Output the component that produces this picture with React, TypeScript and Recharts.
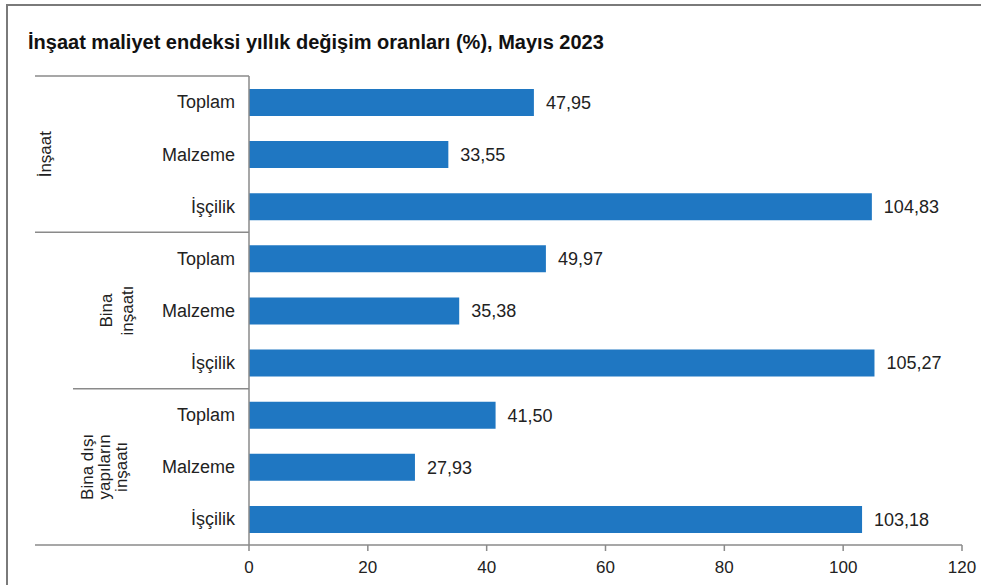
import React from 'react';
import { BarChart, Bar, XAxis, YAxis, LabelList, Customized, usePlotArea } from 'recharts';

const categories = ['Toplam', 'Malzeme', 'İşçilik', 'Toplam', 'Malzeme', 'İşçilik', 'Toplam', 'Malzeme', 'İşçilik'];
const values = [47.95, 33.55, 104.83, 49.97, 35.38, 105.27, 41.5, 27.93, 103.18];
const groupLabels = [['İnşaat'], ['Bina', 'inşaatı'], ['Bina dışı', 'yapıların', 'inşaatı']];
const xTicks = [0, 20, 40, 60, 80, 100, 120];
const title = 'İnşaat maliyet endeksi yıllık değişim oranları (%), Mayıs 2023';

const data = categories.map((c, i) => ({ id: `c${i}`, label: c, value: values[i] }));

const FONT = '"Liberation Sans", Arial, sans-serif';
const AXIS = '#8a8a8a';

function GroupDecor() {
  const area = usePlotArea();
  if (!area) return null;
  const { x, y, height } = area;
  const band = height / categories.length;
  const size = 3;
  const lineStarts = [35, 35, 73, 35];
  const labelX = [45, 116, 104];
  const lineHeights = [17, 21, 17];
  return (
    <g>
      {lineStarts.map((sx, k) => (
        <line key={`l${k}`} x1={sx} x2={x} y1={y + k * size * band} y2={y + k * size * band} stroke={AXIS} strokeWidth={1.5} />
      ))}
      {groupLabels.map((lines, k) => {
        const cx = labelX[k];
        const cy = y + (k * size + size / 2) * band;
        const lh = lineHeights[k];
        return (
          <text key={`g${k}`} x={cx} y={cy} transform={`rotate(-90, ${cx}, ${cy})`} textAnchor="middle" fontFamily={FONT} fontSize={17} fill="#222">
            {lines.map((t, j) => (
              <tspan key={j} x={cx} dy={j === 0 ? -((lines.length - 1) / 2) * lh + 6 : lh}>{t}</tspan>
            ))}
          </text>
        );
      })}
    </g>
  );
}

export default function App() {
  return (
    <div style={{ position: 'absolute', left: 0, top: 0, width: 981, height: 585, background: '#fff', overflow: 'hidden' }}>
      <div style={{ position: 'absolute', left: 6, top: 4, width: 980, height: 590, borderTop: '2px solid #7a7a7a', borderLeft: '2px solid #7a7a7a' }} />
      <div style={{ position: 'absolute', left: 28, top: 31, fontFamily: FONT, fontWeight: 'bold', fontSize: 20, color: '#111', whiteSpace: 'nowrap' }}>{title}</div>
      <BarChart
        width={981}
        height={585}
        data={data}
        layout="vertical"
        margin={{ top: 76, right: 19, bottom: 10, left: 0 }}
        style={{ position: 'absolute', left: 0, top: 0 }}
      >
        <XAxis
          type="number"
          domain={[0, 120]}
          ticks={xTicks}
          interval={0}
          height={30}
          stroke={AXIS}
          strokeWidth={1.5}
          tickSize={6}
          tickMargin={10}
          tick={{ fill: '#222', fontFamily: FONT, fontSize: 17 }}
        />
        <YAxis
          type="category"
          dataKey="id"
          width={249}
          tickFormatter={(v: string) => data.find(d => d.id === v)?.label ?? ''}
          tickSize={0}
          tickMargin={14}
          stroke={AXIS}
          strokeWidth={1.5}
          tick={{ fill: '#222', fontFamily: FONT, fontSize: 18 }}
          interval={0}
        />
        <Bar dataKey="value" fill="#1f77c2" barSize={27} isAnimationActive={false}>
          <LabelList
            dataKey="value"
            position="right"
            offset={12}
            formatter={(v: number) => v.toFixed(2).replace('.', ',')}
            style={{ fill: '#222', fontFamily: FONT, fontSize: 18 }}
          />
        </Bar>
        <Customized component={<GroupDecor />} />
      </BarChart>
    </div>
  );
}
